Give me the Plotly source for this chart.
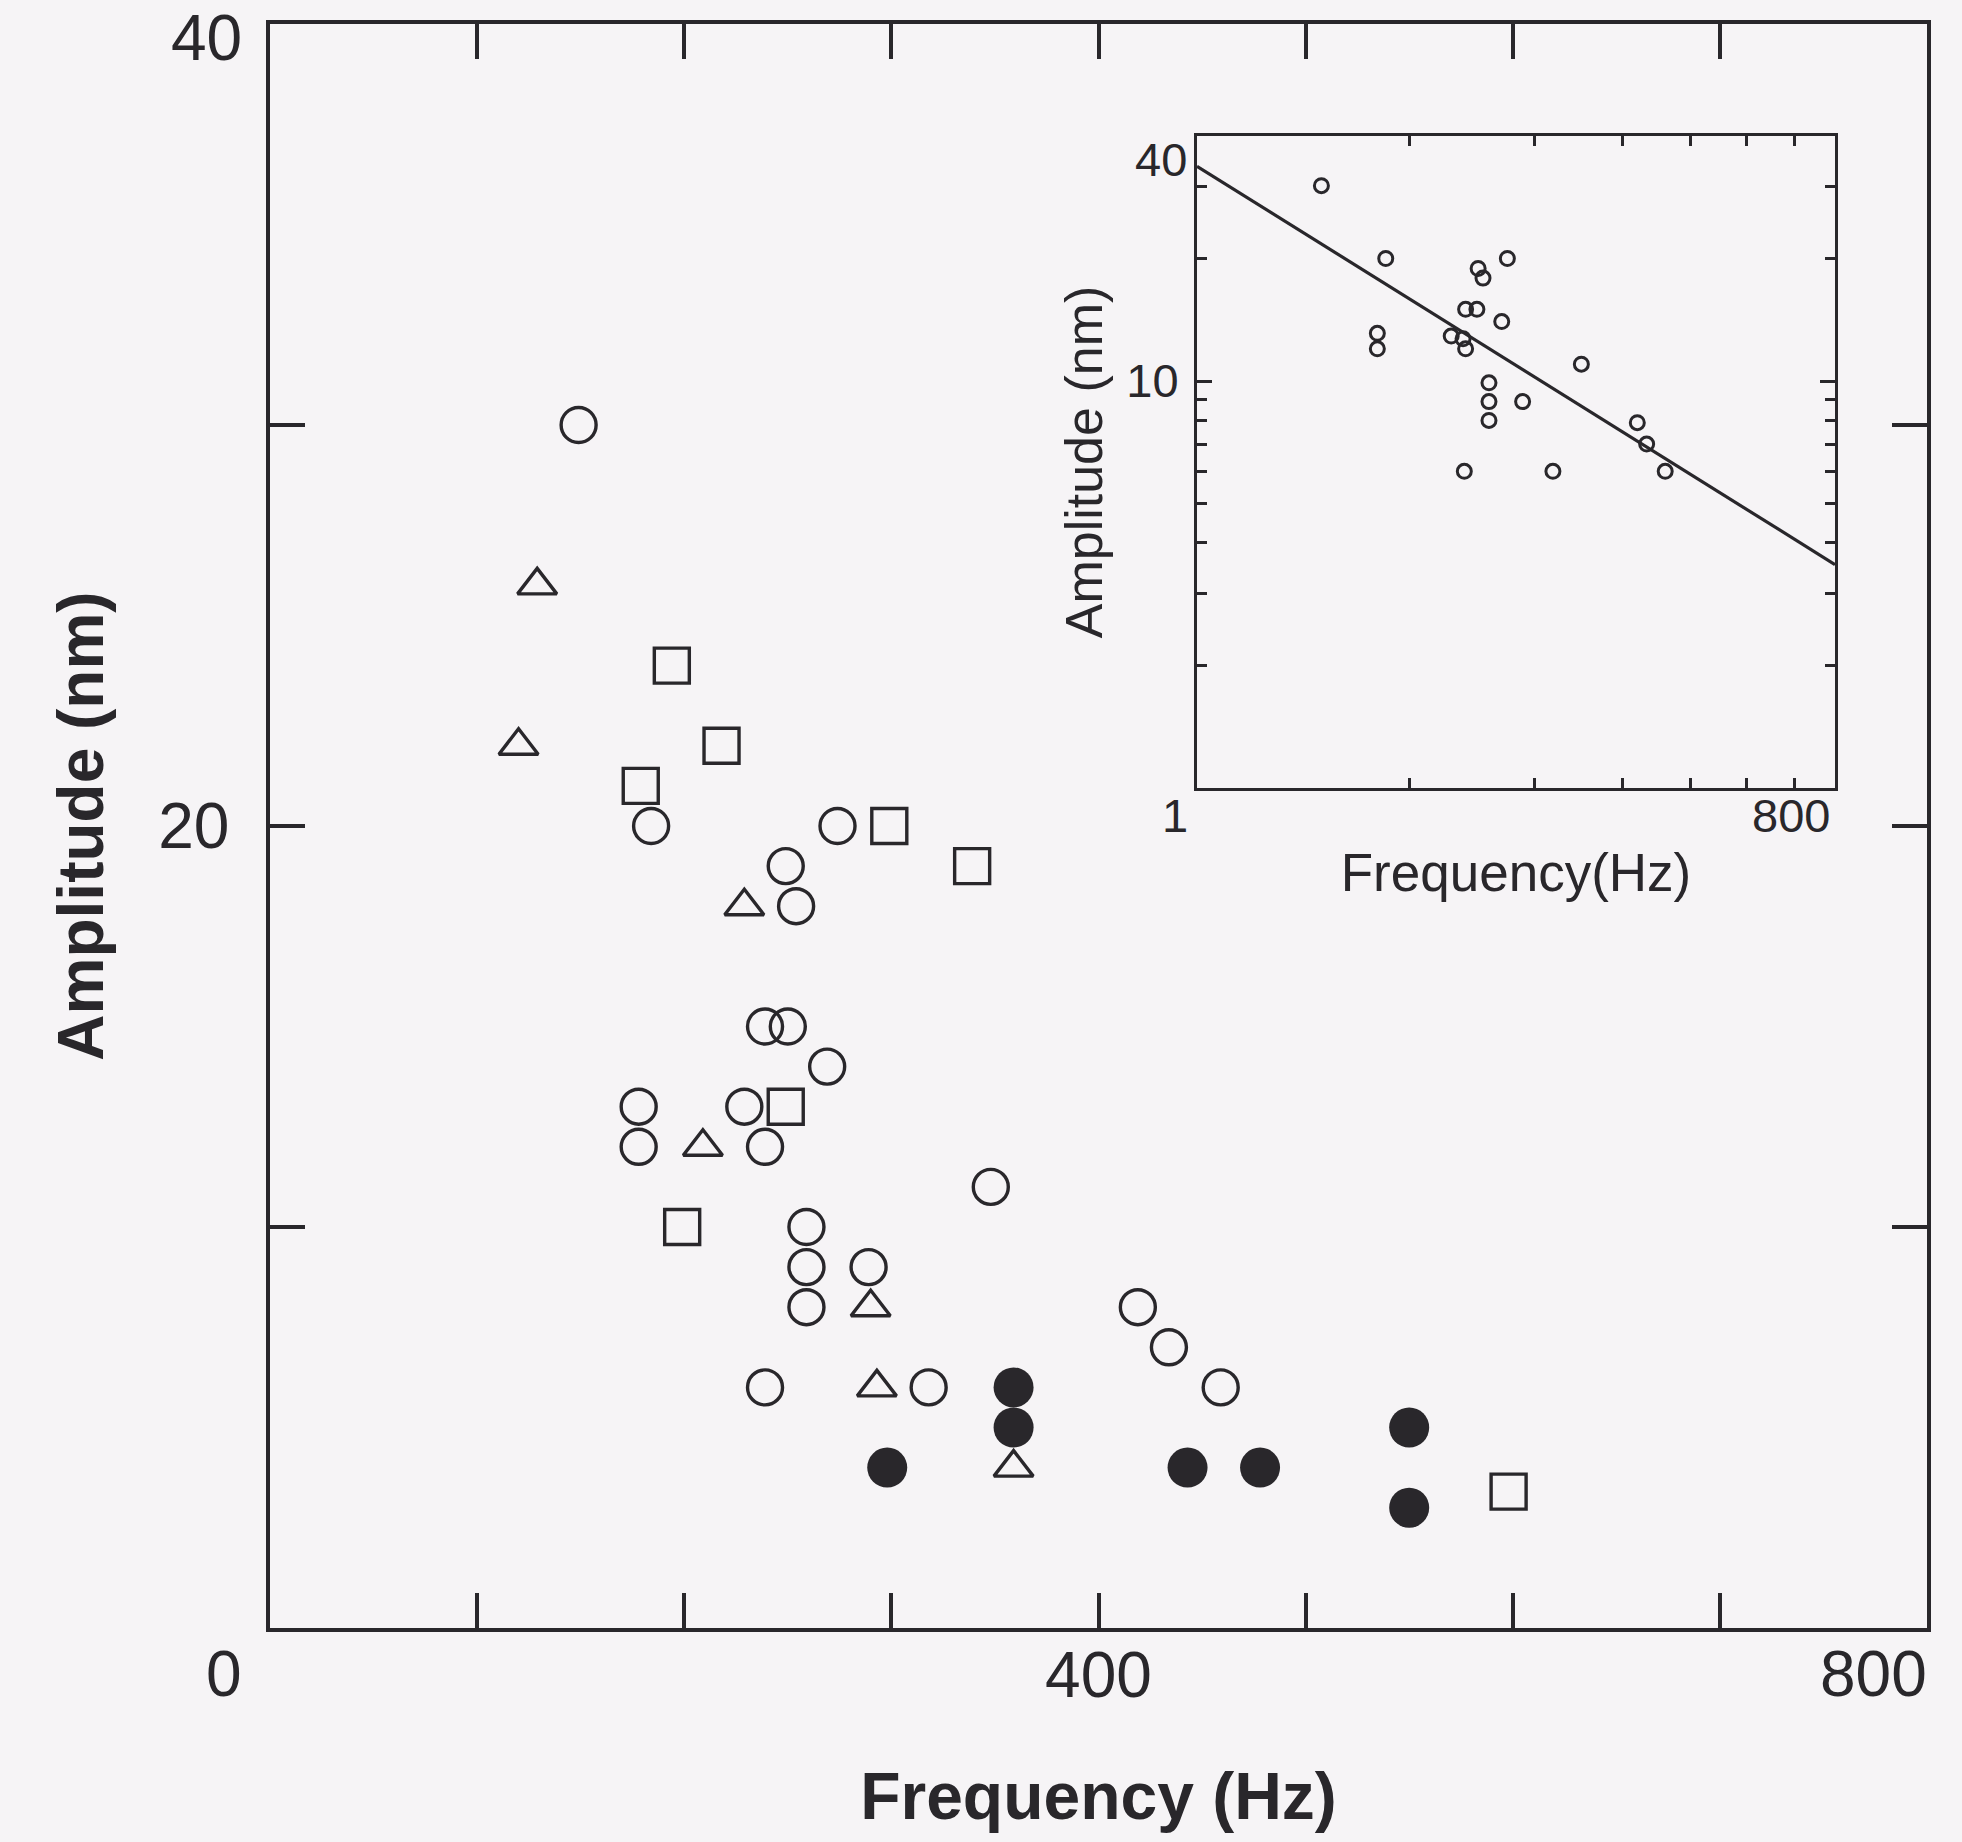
import math
import plotly.graph_objects as go

# ---------------- main panel data: Frequency (Hz) vs Amplitude (nm) ----------------
circle_freq = [149, 184, 274, 249, 254, 239, 250, 269, 178, 178, 229, 239,
               348, 259, 259, 289, 259, 419, 434, 459, 239, 318]
circle_amp = [30, 20, 20, 19, 18, 15, 15, 14, 13, 12, 13, 12,
              11, 10, 9, 9, 8, 8, 7, 6, 6, 6]
triangle_freq = [129, 120, 229, 209, 290, 293, 359]
triangle_amp = [26, 22, 18, 12, 8, 6, 4]
square_freq = [194, 218, 179, 299, 339, 249, 199, 598]
square_amp = [24, 22, 21, 20, 19, 13, 10, 3.4]
filled_freq = [359, 359, 298, 443, 478, 550, 550]
filled_amp = [6, 5, 4, 4, 4, 5, 3]

# ---------------- inset data (log-log) ----------------
inset_freq = [150, 185, 275, 250, 254, 240, 249, 270, 180, 180, 229, 238,
              240, 350, 259, 259, 289, 259, 420, 433, 460, 239, 319]
inset_amp = [30.2, 20.0, 20.0, 18.9, 17.9, 15.0, 15.0, 14.0, 13.1, 12.0, 12.9, 12.7,
             12.0, 11.0, 9.9, 8.9, 8.9, 8.0, 7.9, 7.0, 6.0, 6.0, 6.0]
fit_freq = [100, 800]
fit_amp = [33.7, 3.54]

# ---------------- tick definitions ----------------
main_xticks = [100, 200, 300, 400, 500, 600, 700]
main_xticktext = ["", "", "", "400", "", "", ""]
main_yticks = [10, 20, 30]
main_yticktext = ["", "20", ""]
inset_xticks = [200, 300, 400, 500, 600, 700]
inset_ymajor = [10]
inset_ymajor_text = ["10"]
inset_yminor = [2, 3, 4, 5, 6, 7, 8, 9, 20, 30]

INK = "#29272b"
BG = "#f6f4f6"
FONT = "Liberation Sans, Arial, sans-serif"

fig = go.Figure()

fig.add_trace(go.Scatter(
    x=circle_freq, y=circle_amp, mode="markers", xaxis="x", yaxis="y",
    marker=dict(symbol="circle-open", size=35, color=INK, line=dict(width=3.4, color=INK)),
    showlegend=False))
fig.add_trace(go.Scatter(
    x=triangle_freq, y=triangle_amp, mode="markers", xaxis="x", yaxis="y",
    marker=dict(symbol="triangle-up-open", size=34, color=INK, line=dict(width=3.4, color=INK)),
    showlegend=False))
fig.add_trace(go.Scatter(
    x=square_freq, y=square_amp, mode="markers", xaxis="x", yaxis="y",
    marker=dict(symbol="square-open", size=35, color=INK, line=dict(width=3.4, color=INK)),
    showlegend=False))
fig.add_trace(go.Scatter(
    x=filled_freq, y=filled_amp, mode="markers", xaxis="x", yaxis="y",
    marker=dict(symbol="circle", size=40, color=INK, line=dict(width=0)),
    showlegend=False))

# inset
fig.add_trace(go.Scatter(
    x=fit_freq, y=fit_amp, mode="lines", xaxis="x2", yaxis="y2",
    line=dict(color=INK, width=3.2), showlegend=False))
fig.add_trace(go.Scatter(
    x=inset_freq, y=inset_amp, mode="markers", xaxis="x2", yaxis="y2",
    marker=dict(symbol="circle-open", size=14, color=INK, line=dict(width=3, color=INK)),
    showlegend=False))

W, H = 1962, 1842
L, R, T, B = 270, 35, 24, 214
pw, ph = W - L - R, H - T - B

def px_x(px):
    return (px - L) / pw

def px_y(py):
    return (H - B - py) / ph

inset_left, inset_right, inset_top, inset_bottom = 1197, 1835, 136, 788

axis_common = dict(showline=True, linewidth=3.5, linecolor=INK, mirror="ticks",
                   ticks="inside", ticklen=35, tickwidth=3.5, tickcolor=INK,
                   showgrid=False, zeroline=False,
                   tickfont=dict(family=FONT, size=64, color=INK))

fig.update_layout(
    width=W, height=H, autosize=False,
    margin=dict(l=L, r=R, t=T, b=B, pad=0),
    paper_bgcolor=BG, plot_bgcolor="rgba(0,0,0,0)",
    font=dict(family=FONT, color=INK),
    xaxis=dict(range=[0, 800], domain=[0, 1], anchor="y",
               tickmode="array", tickvals=main_xticks, ticktext=main_xticktext,
               ticklabelstandoff=-12,
               title=dict(text="Frequency (Hz)", standoff=64,
                          font=dict(family=FONT, size=66, weight="bold", color=INK)),
               **axis_common),
    yaxis=dict(range=[0, 40], domain=[0, 1], anchor="x",
               tickmode="array", tickvals=main_yticks, ticktext=main_yticktext,
               ticklabelstandoff=24,
               title=dict(text="Amplitude (nm)", standoff=35,
                          font=dict(family=FONT, size=64, weight="bold", color=INK)),
               **axis_common),
    xaxis2=dict(type="log", range=[2, math.log10(800)],
                domain=[px_x(inset_left), px_x(inset_right)], anchor="y2",
                showline=True, linewidth=3, linecolor=INK, mirror="ticks",
                ticks="inside", ticklen=10, tickwidth=3, tickcolor=INK,
                tickmode="array", tickvals=inset_xticks, showticklabels=False,
                showgrid=False, zeroline=False,
                title=dict(text="Frequency(Hz)", standoff=64,
                           font=dict(family=FONT, size=53, color=INK))),
    yaxis2=dict(type="log", range=[0, math.log10(40)],
                domain=[px_y(inset_bottom), px_y(inset_top)], anchor="x2",
                showline=True, linewidth=3, linecolor=INK, mirror="ticks",
                ticks="inside", ticklen=15, tickwidth=3, tickcolor=INK,
                tickmode="array", tickvals=inset_ymajor, ticktext=inset_ymajor_text,
                ticklabelstandoff=6,
                tickfont=dict(family=FONT, size=47, color=INK),
                minor=dict(tickmode="array", tickvals=inset_yminor, ticks="inside",
                           ticklen=10, tickwidth=3, tickcolor=INK),
                showgrid=False, zeroline=False,
                title=dict(text="Amplitude (nm)", standoff=8,
                           font=dict(family=FONT, size=52, color=INK))),
)

# corner tick labels placed as in the original drawing
main_labels = [
    dict(text="0", x=px_x(224), y=px_y(1674), xanchor="center", yanchor="middle"),
    dict(text="40", x=px_x(244), y=px_y(38), xanchor="right", yanchor="middle"),
    dict(text="800", x=px_x(1929), y=px_y(1674), xanchor="right", yanchor="middle"),
]
for a in main_labels:
    fig.add_annotation(xref="paper", yref="paper", showarrow=False,
                       font=dict(family=FONT, size=64, color=INK), **a)

iw = inset_right - inset_left
ih = inset_bottom - inset_top
inset_labels = [
    dict(text="40", x=(1189 - inset_left) / iw, y=(inset_bottom - 160) / ih, xanchor="right"),
    dict(text="1", x=(1190 - inset_left) / iw, y=(inset_bottom - 815) / ih, xanchor="right"),
    dict(text="800", x=(1832 - inset_left) / iw, y=(inset_bottom - 815) / ih, xanchor="right"),
]
for a in inset_labels:
    fig.add_annotation(xref="x2 domain", yref="y2 domain", showarrow=False,
                       yanchor="middle",
                       font=dict(family=FONT, size=47, color=INK), **a)

fig.write_html("out.html")
